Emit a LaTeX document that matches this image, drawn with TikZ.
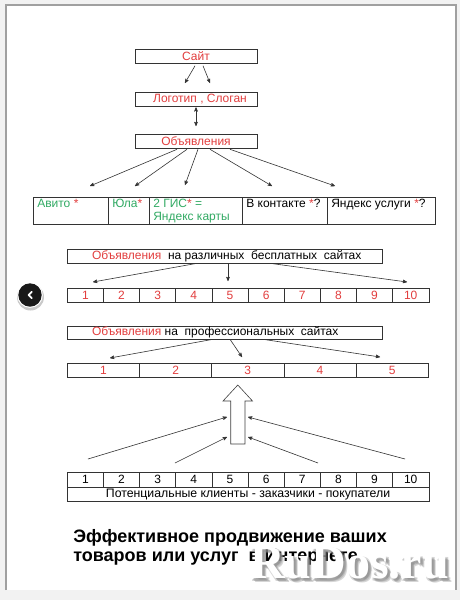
\documentclass[tikz,border=0pt]{standalone}
\usepackage{fontspec}
\setmainfont{Liberation Sans}
\newfontfamily\wmfont{Liberation Serif}
\usetikzlibrary{arrows,positioning,calc}
\definecolor{adred}{RGB}{226,62,62}
\definecolor{adgreen}{RGB}{50,170,100}
\definecolor{framegray}{RGB}{160,160,160}
\definecolor{pagegray}{RGB}{242,242,242}
\newcommand{\rd}[1]{\textcolor{adred}{#1}}
\newcommand{\gr}[1]{\textcolor{adgreen}{#1}}

\begin{document}
\begin{tikzpicture}[x=1pt, y=-1pt, >=stealth', semithick,
    every node/.style={font=\fontsize{12}{14.5}\selectfont},
    box/.style={draw=black!80, rectangle, inner sep=0pt, minimum height=14pt},
    cell/.style={draw=black!80, rectangle, inner sep=0pt, anchor=north west},
    celltext/.style={anchor=north west, inner xsep=4pt, inner ysep=2pt, align=left},
    link/.style={->, draw=black!80}]
    % page frame
    \fill[pagegray] (0,0) rectangle (460,600);
    \fill[white] (6,5) rectangle (456,590);
    \draw[framegray, line width=1.5pt] (6,590) -- (6,5) -- (456,5) -- (456,590);

    % top chain
    \node[box, minimum width=122pt] (site) at (196,56.5) {\rd{Сайт}};
    \node[box, minimum width=122pt] (logo) at (196,99)   {\hspace{8pt}\rd{Логотип , Слоган}};
    \node[box, minimum width=122pt] (ads)  at (196,141)  {\rd{Объявления}};

    \coordinate (siteL) at (185,83);
    \coordinate (siteR) at (210,83);
    \coordinate (adsup) at (196,126);
    \draw[link] ([xshift=-1pt,yshift=-2pt]site.south) -- (siteL);
    \draw[link] ([xshift=7pt,yshift=-2pt]site.south) -- (siteR);
    \draw[<->, draw=black!80] ([yshift=-1pt]logo.south) -- (adsup);

    % first table
    \node[cell, minimum width=75pt,  minimum height=27pt] (avito) at (33,197)  {};
    \node[cell, minimum width=41pt,  minimum height=27pt] (yula)  at (108,197) {};
    \node[cell, minimum width=93pt,  minimum height=27pt] (gis)   at (149,197) {};
    \node[cell, minimum width=85pt,  minimum height=27pt] (vk)    at (242,197) {};
    \node[cell, minimum width=108pt, minimum height=27pt] (yserv) at (327,197) {};
    \node[celltext] at (avito.north west) {\gr{Авито} \rd{*}};
    \node[celltext] at (yula.north west)  {\gr{Юла}\rd{*}};
    \node[celltext] at (gis.north west)   {\gr{2 ГИС}\rd{*}~\gr{=}\\[-1.5pt]\gr{Яндекс карты}};
    \node[celltext] at (vk.north west)    {В контакте \rd{*}?};
    \node[celltext] at (yserv.north west) {Яндекс услуги \rd{*}?};

    \coordinate (t1) at (90,186);
    \coordinate (t2) at (135,186);
    \coordinate (t3) at (185,185);
    \coordinate (t4) at (272,186);
    \coordinate (t5) at (335,186);
    \draw[link] ([xshift=-19pt,yshift=-1pt]ads.south) -- (t1);
    \draw[link] ([xshift=-9pt,yshift=-1pt]ads.south)  -- (t2);
    \draw[link] ([xshift=2pt,yshift=-1pt]ads.south)   -- (t3);
    \draw[link] ([xshift=14pt,yshift=-1pt]ads.south)  -- (t4);
    \draw[link] ([xshift=34pt,yshift=-1pt]ads.south)  -- (t5);

    % free sites
    \node[box, minimum width=315pt] (free) at (224.5,256) {};
    \node[anchor=west, inner sep=0pt] at ([xshift=25pt]free.west)
        {\rd{Объявления}\ \ на различных\ \ бесплатных\ \ сайтах};
    \foreach \i in {1,...,10}
        \node[cell, minimum width=36.15pt, minimum height=14pt, text=adred]
            (f\i) at ({67+36.15*(\i-1)},288) {\i};

    \coordinate (fa) at (93,282);
    \coordinate (fb) at (228,281);
    \coordinate (fc) at (407,282);
    \draw[link] ([xshift=-27.5pt]free.south) -- (fa);
    \draw[link] ([xshift=3.5pt]free.south)   -- (fb);
    \draw[link] ([xshift=45.5pt]free.south)  -- (fc);

    % professional sites
    \node[box, minimum width=315pt, minimum height=13pt] (pro) at (224.5,332.5) {};
    \node[anchor=west, inner sep=0pt] at ([xshift=25pt]pro.west)
        {\rd{Объявления}\ на\ \ профессиональных\ \ сайтах};
    \foreach \i in {1,...,5}
        \node[cell, minimum width=72.2pt, minimum height=14pt, text=adred]
            (p\i) at ({67+72.2*(\i-1)},363) {\i};

    \coordinate (pa) at (110,358);
    \coordinate (pb) at (242,357);
    \coordinate (pc) at (380,357);
    \draw[link] ([xshift=-11.5pt]pro.south) -- (pa);
    \draw[link] ([xshift=5.5pt]pro.south)   -- (pb);
    \draw[link] ([xshift=38.5pt]pro.south)  -- (pc);

    % big arrow up
    \draw[black!75, fill=white] (230.7,444) -- (230.7,401) -- (223,401) -- (237.8,385)
        -- (252.5,401) -- (245,401) -- (245,444) -- cycle;
    \coordinate (ul) at (227,417);
    \coordinate (ur) at (248,417);
    \coordinate (ll) at (227,437);
    \coordinate (lr) at (248,437);
    \coordinate (sl) at (88,459);
    \coordinate (sml) at (175,463);
    \coordinate (smr) at (318,463);
    \coordinate (sr) at (405,459);
    \draw[link] (sl)  -- (ul);
    \draw[link] (sml) -- (ll);
    \draw[link] (sr)  -- (ur);
    \draw[link] (smr) -- (lr);

    % clients
    \foreach \i in {1,...,10}
        \node[cell, minimum width=36.15pt, minimum height=15pt]
            (c\i) at ({67+36.15*(\i-1)},472) {\i};
    \node[cell, minimum width=361.5pt, minimum height=14pt, font=\fontsize{12.3}{13}\selectfont]
        (clients) at (67,487) {Потенциальные клиенты - заказчики - покупатели};

    % title
    \node[anchor=base west, inner sep=0pt, font=\bfseries\fontsize{18}{21}\selectfont]
        (title1) at (73,542) {Эффективное продвижение ваших};
    \node[anchor=base west, inner sep=0pt, font=\bfseries\fontsize{18}{21}\selectfont]
        (title2) at (73,561) {товаров или услуг\ \ в Интернете};

    % back button
    \fill[black!35, opacity=.6] (30.5,297) circle (13.5);
    \fill[white] (30,295) circle (12.8);
    \fill[black!90] (30,295) circle (11.7);
    \draw[white, line width=1.8pt, line cap=round, line join=round]
        (31.8,291.8) -- (28.6,295) -- (31.8,298.2);

    % watermark
    \foreach \dx/\dy in {2/2,3/3,1/3,3/1,4/4}
        \node[anchor=base west, inner sep=0pt, text=black!45, opacity=.35,
              font=\wmfont\bfseries\fontsize{48}{48}\selectfont]
            at (250+\dx,578+\dy) {RuDos.ru};
    \node[anchor=base west, inner sep=0pt, text=white,
          font=\wmfont\bfseries\fontsize{48}{48}\selectfont]
        (mark) at (250,578) {RuDos.ru};
\end{tikzpicture}
\end{document}
